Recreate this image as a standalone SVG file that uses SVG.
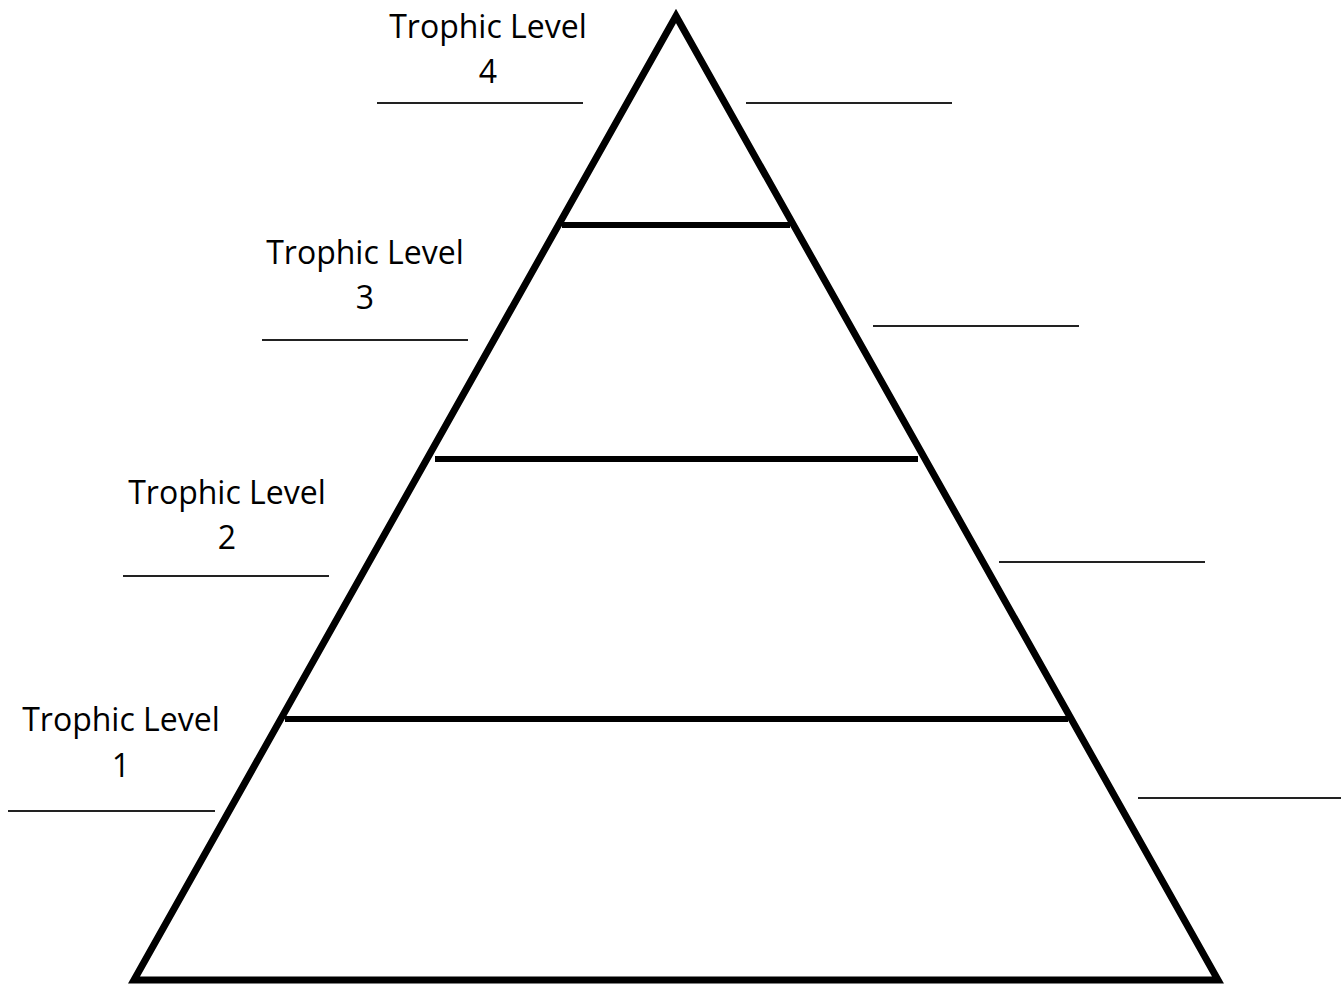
<svg xmlns="http://www.w3.org/2000/svg" width="1341" height="987" viewBox="0 0 1341 987">
<style>
.edge{fill:none;stroke:#000;stroke-width:7;stroke-linejoin:miter}
.tier{stroke:#000;stroke-width:6}
.blank{stroke:#222;stroke-width:2}
.lbl{font-family:"Open Sans","Noto Sans",sans-serif;font-size:32px;fill:#000;text-anchor:middle}
</style>
<rect width="1341" height="987" fill="#fff"/>
<g id="pyramid">
<polygon class="edge" points="676,16 134,980 1218,980"/>
</g>
<g id="connectors">
<line class="tier" x1="562" y1="225" x2="790" y2="225"/>
<line class="tier" x1="435" y1="459" x2="918" y2="459"/>
<line class="tier" x1="285" y1="719" x2="1068" y2="719"/>
</g>
<g id="level4">
<text class="lbl" x="488" y="38">Trophic Level</text>
<text class="lbl" x="488" y="83">4</text>
<line class="blank" x1="377" y1="103" x2="583" y2="103"/>
<line class="blank" x1="746" y1="103" x2="952" y2="103"/>
</g>
<g id="level3">
<text class="lbl" x="365" y="264">Trophic Level</text>
<text class="lbl" x="365" y="309">3</text>
<line class="blank" x1="262" y1="340" x2="468" y2="340"/>
<line class="blank" x1="873" y1="326" x2="1079" y2="326"/>
</g>
<g id="level2">
<text class="lbl" x="227" y="504">Trophic Level</text>
<text class="lbl" x="227" y="549">2</text>
<line class="blank" x1="123" y1="576" x2="329" y2="576"/>
<line class="blank" x1="999" y1="562" x2="1205" y2="562"/>
</g>
<g id="level1">
<text class="lbl" x="121" y="731">Trophic Level</text>
<text class="lbl" x="121" y="777">1</text>
<line class="blank" x1="8" y1="811" x2="215" y2="811"/>
<line class="blank" x1="1138" y1="798" x2="1341" y2="798"/>
</g>
</svg>
